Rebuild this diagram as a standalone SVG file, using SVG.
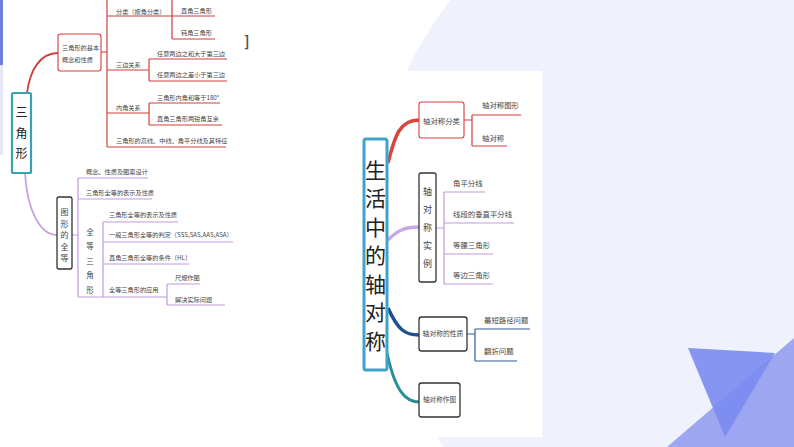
<svg xmlns="http://www.w3.org/2000/svg" width="794" height="447" viewBox="0 0 794 447">
<style>
text{font-family:"Noto Sans CJK SC","Noto Sans",sans-serif;fill:#444}
.s{font-size:6.2px}
.r{font-size:7.4px}
.ln{fill:none;stroke-width:1.2}
.red{stroke:#cf3f3a}
.pur{stroke:#bf9ae0}
.blu{stroke:#2d5d9c}
.nd{fill:#fff;stroke:#333;stroke-width:1.3}
.ndr{fill:#fff;stroke:#cf3f3a;stroke-width:1.1}
.mid{text-anchor:middle}
</style>
<rect width="794" height="447" fill="#ffffff"/>
<circle cx="743" cy="228" r="371" fill="#eff2fd"/>
<rect x="0" y="0" width="3" height="65" fill="#6f7fdc"/>
<rect x="0" y="65" width="3" height="90" fill="#e3e7f7"/>
<polygon points="667,447 794,338 794,447" fill="#9da6f1"/>
<polygon points="688,348 775,353 725,437" fill="#7a8bef" opacity="0.9"/>
<rect x="350" y="71" width="192" height="366" fill="#ffffff"/>
<text x="244" y="47" style="font-size:15px;font-weight:bold;fill:#555">]</text>

<g id="connectors">
<path d="M27,93 C30,70 40,53 58,53" fill="none" stroke="#cf3f3a" stroke-width="1.8"/>
<path d="M25,173 C27,210 40,235 57,235" fill="none" stroke="#c4a2e2" stroke-width="1.8"/>
<path class="ln red" d="M107,0 V147 M101,52 H107 M107,16 H172 M172,0 V39 M172,16 H215 M172,39 H215 M107,70 H149 M149,59 V81 M149,59 H227 M149,81 H227 M107,113 H149 M149,103 V125 M149,103 H220 M149,125 H222 M107,147 H226"/>
<path class="ln pur" d="M72,235 H78 M78,178 V297 M78,178 H148 M78,199 H152 M78,297 H167 M103,222 V297 M103,222 H178 M103,242 H233 M103,264 H189 M167,284 V305 M167,284 H200 M167,305 H225"/>
<path d="M388,163 C395,135 400,120 419,120" fill="none" stroke="#d9453d" stroke-width="3.5"/>
<path d="M388,240 C398,230 405,227 419,227" fill="none" stroke="#c9a6e6" stroke-width="3.5"/>
<path d="M388,308 C398,330 405,335 419,335" fill="none" stroke="#1f4f8f" stroke-width="3.5"/>
<path d="M387,353 C395,390 405,402 419,402" fill="none" stroke="#2b8f94" stroke-width="3"/>
<path class="ln red" d="M464,120 H472 M472,115 V146 M472,115 H521 M472,146 H507"/>
<path class="ln pur" d="M436,228 H444 M444,192 V284 M444,192 H485 M444,223 H514 M444,254 H493 M444,284 H493"/>
<path class="ln blu" d="M467,334 H475 M475,329 V361 M475,329 H530 M475,361 H517"/>
</g>

<g id="root-left">
<rect x="12" y="93" width="19" height="80" rx="1.5" fill="#fff" stroke="#3aa0b4" stroke-width="2.2"/>
<text x="21.5" y="117" class="mid" style="font-size:12px;fill:#222">三</text>
<text x="21.5" y="138" class="mid" style="font-size:12px;fill:#222">角</text>
<text x="21.5" y="158" class="mid" style="font-size:12px;fill:#222">形</text>
</g>

<g id="node-basic">
<rect x="58" y="34" width="43" height="37" rx="2.5" class="ndr"/>
<text x="62" y="50" class="s">三角形的基本</text>
<text x="62" y="62" class="s">概念和性质</text>
</g>
<g id="n-fenlei"><text x="116" y="13.5" class="s">分类（按角分类）</text></g>
<g id="n-zhijiao"><text x="181" y="12.5" class="s">直角三角形</text></g>
<g id="n-dunjiao"><text x="181" y="34.5" class="s">钝角三角形</text></g>
<g id="n-sanbian"><text x="116" y="67" class="s">三边关系</text></g>
<g id="n-he"><text x="157" y="55.5" class="s">任意两边之和大于第三边</text></g>
<g id="n-cha"><text x="157" y="77" class="s">任意两边之差小于第三边</text></g>
<g id="n-neijiao"><text x="116" y="110" class="s">内角关系</text></g>
<g id="n-180"><text x="157" y="99.5" class="s">三角形内角和等于180°</text></g>
<g id="n-huyu"><text x="157" y="121" class="s">直角三角形两锐角互余</text></g>
<g id="n-gaoxian"><text x="116" y="142.5" class="s">三角形的高线、中线、角平分线及其特征</text></g>

<g id="node-quandeng">
<rect x="57" y="197" width="15" height="72" rx="2" class="nd"/>
<text x="64.5" y="215" class="mid" style="font-size:8px">图</text>
<text x="64.5" y="226.5" class="mid" style="font-size:8px">形</text>
<text x="64.5" y="238" class="mid" style="font-size:8px">的</text>
<text x="64.5" y="249.5" class="mid" style="font-size:8px">全</text>
<text x="64.5" y="261" class="mid" style="font-size:8px">等</text>
</g>
<g id="n-gainian"><text x="86" y="174.2" class="s">概念、性质及图案设计</text></g>
<g id="n-biaoshi1"><text x="86" y="195.2" class="s">三角形全等的表示及性质</text></g>
<g id="n-qdsjx">
<text x="90" y="234.7" class="mid" style="font-size:7.5px">全</text>
<text x="90" y="249.2" class="mid" style="font-size:7.5px">等</text>
<text x="90" y="263.7" class="mid" style="font-size:7.5px">三</text>
<text x="90" y="278.2" class="mid" style="font-size:7.5px">角</text>
<text x="90" y="292.7" class="mid" style="font-size:7.5px">形</text>
</g>
<g id="n-biaoshi2"><text x="109" y="217.2" class="s">三角形全等的表示及性质</text></g>
<g id="n-panding"><text x="109" y="237.2" class="s">一般三角形全等的判定（SSS,SAS,AAS,ASA）</text></g>
<g id="n-hl"><text x="109" y="260.2" class="s">直角三角形全等的条件（HL）</text></g>
<g id="n-yingyong"><text x="109" y="292.2" class="s">全等三角形的应用</text></g>
<g id="n-chigui"><text x="175" y="280.2" class="s">尺规作图</text></g>
<g id="n-shiji"><text x="175" y="302.2" class="s">解决实际问题</text></g>

<g id="root-right">
<rect x="364" y="139" width="23" height="231" rx="2" fill="#fff" stroke="#3fa3c9" stroke-width="3"/>
<text x="375.5" y="177.5" class="mid" style="font-size:21px;fill:#222">生</text>
<text x="375.5" y="206" class="mid" style="font-size:21px;fill:#222">活</text>
<text x="375.5" y="234.5" class="mid" style="font-size:21px;fill:#222">中</text>
<text x="375.5" y="263" class="mid" style="font-size:21px;fill:#222">的</text>
<text x="375.5" y="291.5" class="mid" style="font-size:21px;fill:#222">轴</text>
<text x="375.5" y="320" class="mid" style="font-size:21px;fill:#222">对</text>
<text x="375.5" y="348.5" class="mid" style="font-size:21px;fill:#222">称</text>
</g>
<g id="node-fenlei">
<rect x="419" y="102" width="45" height="36" rx="2.5" class="ndr"/>
<text x="441.5" y="123.6" class="mid r">轴对称分类</text>
</g>
<g id="n-txz"><text x="482" y="107.6" class="r">轴对称图形</text></g>
<g id="n-dc"><text x="482" y="140.6" class="r">轴对称</text></g>
<g id="node-shili">
<rect x="419" y="173" width="17" height="109" rx="2" class="nd"/>
<text x="427.5" y="195" class="mid" style="font-size:9px">轴</text>
<text x="427.5" y="213" class="mid" style="font-size:9px">对</text>
<text x="427.5" y="231" class="mid" style="font-size:9px">称</text>
<text x="427.5" y="249" class="mid" style="font-size:9px">实</text>
<text x="427.5" y="267" class="mid" style="font-size:9px">例</text>
</g>
<g id="n-jpfx"><text x="453" y="185.6" class="r">角平分线</text></g>
<g id="n-czpfx"><text x="453" y="216.6" class="r">线段的垂直平分线</text></g>
<g id="n-dysjx"><text x="453" y="247.6" class="r">等腰三角形</text></g>
<g id="n-dbsjx"><text x="453" y="277.6" class="r">等边三角形</text></g>
<g id="node-xingzhi">
<rect x="419" y="317" width="48" height="34" rx="2.5" class="nd"/>
<text x="443" y="336.4" class="mid" style="font-size:6.8px">轴对称的性质</text>
</g>
<g id="n-zdlj"><text x="484" y="322.5" class="r">最短路径问题</text></g>
<g id="n-fz"><text x="484" y="353.5" class="r">翻折问题</text></g>
<g id="node-zuotu">
<rect x="419" y="383" width="41" height="34" rx="2.5" class="nd"/>
<text x="439.5" y="402.3" class="mid" style="font-size:6.6px">轴对称作图</text>
</g>
</svg>
